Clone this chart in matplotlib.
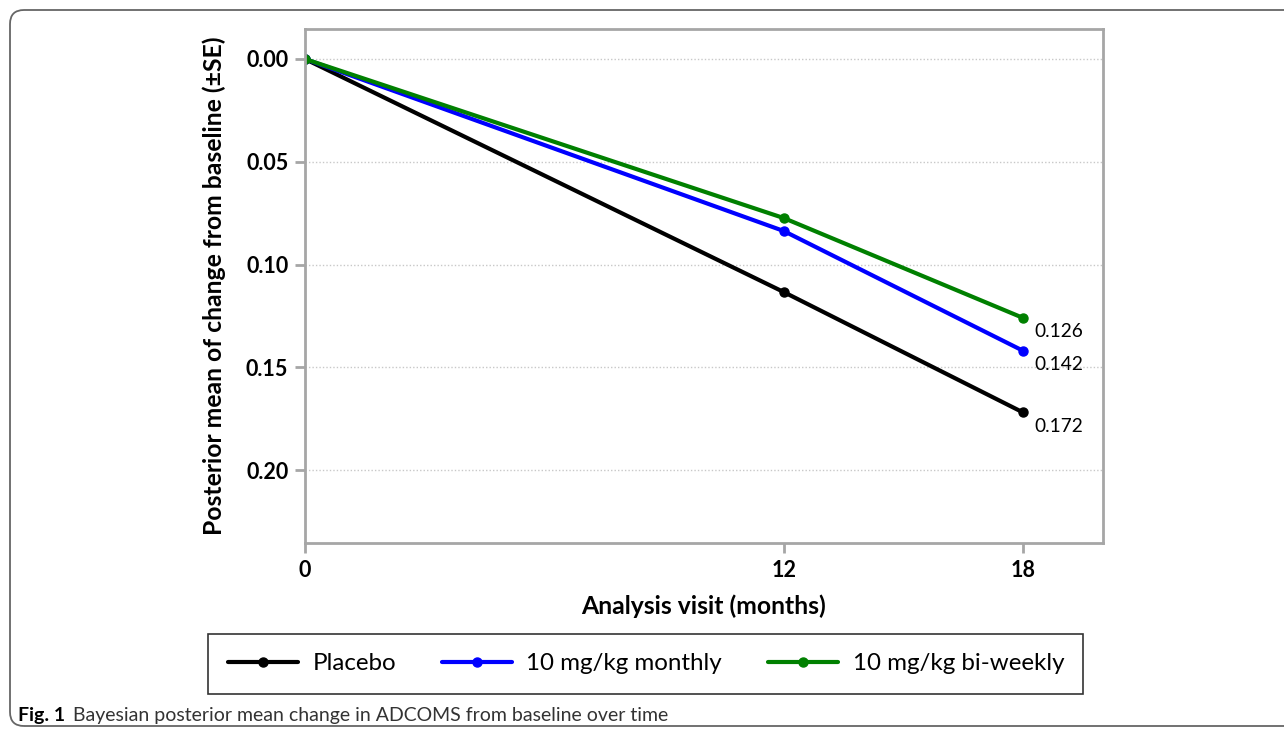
import matplotlib
matplotlib.use("Agg")
import matplotlib.pyplot as plt
from matplotlib.patches import FancyBboxPatch

plt.rcParams['font.family'] = ['Lato', 'DejaVu Sans']

# data
visits = [0, 12, 18]
placebo = [0.0, 0.1134, 0.172]
monthly = [0.0, 0.0837, 0.142]
biweekly = [0.0, 0.0774, 0.126]
series_names = ["Placebo", "10 mg/kg monthly", "10 mg/kg bi-weekly"]
series_colors = ["black", "#0000ff", "#008000"]
y_ticks = [0.0, 0.05, 0.10, 0.15, 0.20]
x_ticks = [0, 12, 18]

fig = plt.figure(figsize=(12.84, 7.32), dpi=100)
ax = fig.add_axes([0.2375, 0.2582, 0.6215, 0.7022])

gray = "#a6a6a6"
for vals, name, col in zip([placebo, monthly, biweekly], series_names, series_colors):
    ax.plot(visits, vals, color=col, lw=3, marker="o", ms=6.5, label=name,
            solid_capstyle="round")
    ax.annotate(f"{vals[-1]:.3f}", xy=(visits[-1], vals[-1]), xytext=(8, -10),
                textcoords="offset points", ha="left", va="center", fontsize=13.8)

ax.set_xlim(0, 20)
ax.set_ylim(0.2355, -0.0146)
ax.set_xticks(x_ticks)
ax.set_yticks(y_ticks)
ax.set_yticklabels([f"{v:.2f}" for v in y_ticks])
for lab in ax.get_xticklabels() + ax.get_yticklabels():
    lab.set_fontweight("bold")
ax.tick_params(axis="both", labelsize=15.5, length=7, width=2, color=gray, pad=5)
ax.yaxis.grid(True, linestyle=(0, (1, 1.5)), color="#c8c8c8", lw=1)
for sp in ax.spines.values():
    sp.set_color(gray)
    sp.set_linewidth(2)

ax.set_ylabel("Posterior mean of change from baseline (±SE)", fontsize=17.8,
              fontweight="bold", labelpad=14)
ax.set_xlabel("Analysis visit (months)", fontsize=17.8, fontweight="bold", labelpad=10)

leg = fig.legend(loc="center", bbox_to_anchor=(0.503, 0.0929), ncol=3, fontsize=17.4,
                 frameon=True, fancybox=False, edgecolor="black", handlelength=2.9,
                 columnspacing=1.9, borderpad=0.8, handletextpad=0.6)
leg.get_frame().set_linewidth(1.2)

t1 = fig.text(18 / 1284, 1 - 716 / 732, "Fig. 1", fontsize=14, fontweight="bold",
              va="center", ha="left")
ax.annotate("Bayesian posterior mean change in ADCOMS from baseline over time",
            xy=(1, 0.5), xycoords=t1, xytext=(6, 0), textcoords="offset points",
            fontsize=14, va="center", ha="left", color="#333333",
            annotation_clip=False)

frame = FancyBboxPatch((10, 6), 1300, 716, boxstyle="round,pad=0,rounding_size=14",
                       transform=None, fill=False, edgecolor="#666666", lw=1.3)
fig.add_artist(frame)

fig.savefig("out.png", dpi=100)
